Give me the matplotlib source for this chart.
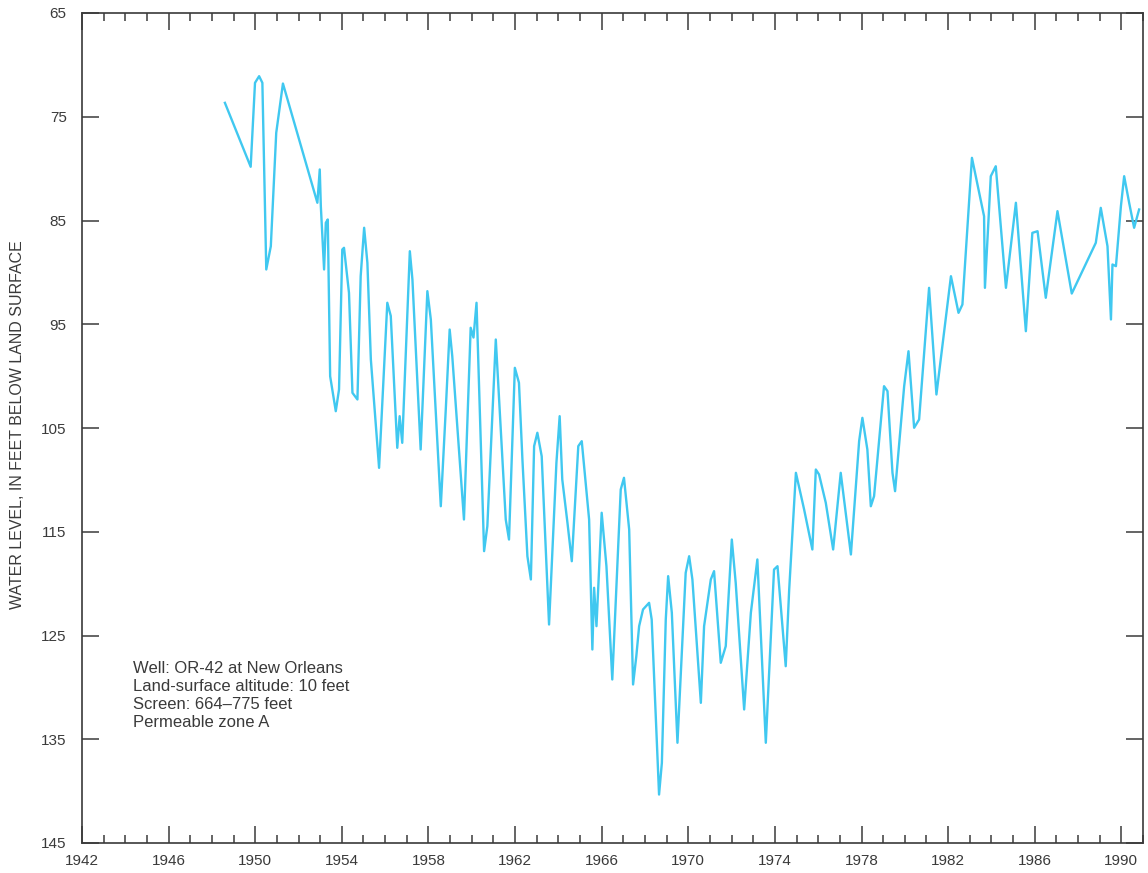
import numpy as np
import matplotlib.pyplot as plt
from matplotlib.ticker import MultipleLocator

plt.rcParams['font.family'] = ['Liberation Sans', 'DejaVu Sans']

# water level record for well OR-42 (decimal year, feet below land surface)
years = [
    1948.60, 1949.79, 1949.99, 1950.18, 1950.33, 1950.51, 1950.72, 1950.97,
    1951.28, 1952.87, 1952.98, 1953.03, 1953.18, 1953.26, 1953.35, 1953.46,
    1953.72, 1953.87, 1954.02, 1954.10, 1954.33, 1954.49, 1954.72, 1954.87,
    1955.03, 1955.18, 1955.34, 1955.72, 1956.10, 1956.26, 1956.56, 1956.67,
    1956.79, 1957.14, 1957.26, 1957.64, 1957.95, 1958.11, 1958.57, 1958.80,
    1958.98, 1959.10, 1959.64, 1959.95, 1960.08, 1960.22, 1960.57, 1960.72,
    1961.11, 1961.57, 1961.72, 1961.99, 1962.18, 1962.34, 1962.57, 1962.73,
    1962.88, 1963.03, 1963.23, 1963.57, 1963.91, 1964.06, 1964.18, 1964.42,
    1964.62, 1964.92, 1965.08, 1965.42, 1965.57, 1965.65, 1965.76, 1966.00,
    1966.22, 1966.49, 1966.88, 1967.03, 1967.27, 1967.45, 1967.60, 1967.73,
    1967.91, 1968.19, 1968.31, 1968.65, 1968.78, 1968.96, 1969.07, 1969.24,
    1969.50, 1969.88, 1970.04, 1970.19, 1970.58, 1970.73, 1971.04, 1971.19,
    1971.50, 1971.73, 1972.01, 1972.19, 1972.58, 1972.89, 1973.19, 1973.58,
    1973.96, 1974.12, 1974.50, 1974.66, 1974.97, 1975.35, 1975.73, 1975.89,
    1976.04, 1976.35, 1976.69, 1977.04, 1977.51, 1977.89, 1978.04, 1978.27,
    1978.43, 1978.58, 1979.04, 1979.20, 1979.43, 1979.55, 1979.97, 1980.17,
    1980.43, 1980.66, 1981.12, 1981.46, 1982.13, 1982.48, 1982.66, 1983.10,
    1983.66, 1983.70, 1983.97, 1984.20, 1984.67, 1985.13, 1985.59, 1985.89,
    1986.13, 1986.51, 1987.05, 1987.71, 1988.82, 1989.05, 1989.36, 1989.52,
    1989.59, 1989.75, 1989.98, 1990.13, 1990.36, 1990.59, 1990.82,
]
depth = [
    73.66, 79.82, 71.73, 71.09, 71.73, 89.72, 87.48, 76.55,
    71.80, 83.29, 80.08, 83.62, 89.72, 85.22, 84.90, 100.01,
    103.38, 101.29, 87.80, 87.63, 91.97, 101.61, 102.25, 90.37,
    85.70, 89.08, 98.40, 108.84, 92.93, 94.20, 106.91, 103.86,
    106.43, 87.96, 90.69, 107.07, 91.81, 94.54, 112.54, 103.22,
    95.51, 98.08, 113.82, 95.34, 96.28, 92.93, 116.87, 114.46,
    96.47, 113.82, 115.75, 99.20, 100.64, 108.04, 117.36, 119.60,
    106.75, 105.46, 107.72, 123.94, 108.35, 103.86, 109.96, 114.14,
    117.84, 106.75, 106.27, 113.82, 126.35, 120.40, 124.10, 113.17,
    118.32, 129.24, 110.93, 109.80, 114.78, 129.72, 126.99, 124.10,
    122.49, 121.85, 123.46, 140.33, 137.27, 123.46, 119.28, 122.81,
    135.34, 118.96, 117.36, 119.60, 131.49, 124.10, 119.60, 118.80,
    127.63, 126.03, 115.75, 119.92, 132.13, 122.81, 117.67, 135.34,
    118.64, 118.32, 127.96, 120.57, 109.32, 112.86, 116.71, 109.00,
    109.48, 112.21, 116.71, 109.32, 117.19, 106.27, 104.02, 107.07,
    112.54, 111.57, 100.97, 101.45, 109.32, 111.09, 100.97, 97.60,
    104.98, 104.18, 91.49, 101.77, 90.37, 93.90, 93.10, 78.96,
    84.59, 91.49, 80.73, 79.77, 91.49, 83.29, 95.67, 86.19,
    86.03, 92.45, 84.10, 92.04, 87.15, 83.78, 87.48, 94.54,
    89.24, 89.40, 83.62, 80.73, 83.29, 85.70, 83.94,
]

year_labels = np.arange(1942, 1991, 4)
level_ticks = np.arange(65, 146, 10)

info_lines = [
    "Well: OR-42 at New Orleans",
    "Land-surface altitude: 10 feet",
    "Screen: 664\u2013775 feet",
    "Permeable zone A",
]

axis_col = '#3a3a3a'

fig = plt.figure(figsize=(11.48, 8.73), dpi=100)
ax = fig.add_axes([82 / 1148, 1 - 843 / 873, (1143 - 82) / 1148, (843 - 13) / 873])

ax.plot(years, depth, color='#40c8f0', lw=1.7, solid_joinstyle='round')

ax.set_xlim(1942, 1991)
ax.set_ylim(145, 65)

ax.xaxis.set_minor_locator(MultipleLocator(1))
ax.set_xticks(year_labels)
ax.set_yticks(level_ticks)

ax.tick_params(axis='x', which='major', direction='in', length=12, width=1.1,
               top=True, bottom=True, pad=8, labelsize=11, colors=axis_col)
ax.tick_params(axis='x', which='minor', direction='in', length=6, width=1.1,
               top=True, bottom=True, colors=axis_col)
ax.tick_params(axis='y', which='major', direction='in', length=12, width=1.1,
               left=True, right=True, pad=11, labelsize=11, colors=axis_col)

for s in ax.spines.values():
    s.set_color(axis_col)
    s.set_linewidth(1.2)

fig.text(18 / 1148, 1 - 425 / 873, "WATER LEVEL, IN FEET BELOW LAND SURFACE",
         rotation=90, ha='center', va='center', fontsize=11.5, color=axis_col)

ax.text(0.048, 0.219, "\n".join(info_lines), transform=ax.transAxes,
        ha='left', va='top', fontsize=12, color=axis_col, linespacing=1.25)

fig.savefig("out.png", dpi=100)
plt.close(fig)
